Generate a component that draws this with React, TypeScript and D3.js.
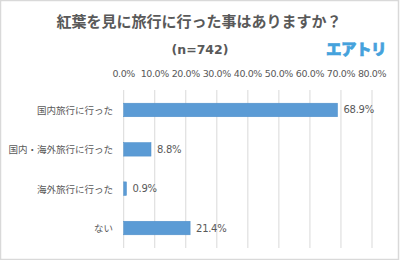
import React from "react";
import * as d3 from "d3";

const categories = ["国内旅行に行った", "国内・海外旅行に行った", "海外旅行に行った", "ない"];
const values = [68.9, 8.8, 0.9, 21.4];
const ticks = [0, 10, 20, 30, 40, 50, 60, 70, 80];
const title = "紅葉を見に旅行に行った事はありますか？";
const subtitle = "(n=742)";
const logo = "エアトリ";

export default function App() {
  const W = 400, H = 260;
  const x = d3.scaleLinear().domain([0, 80]).range([123.7, 372]);
  const y = d3.scaleBand<string>().domain(categories).range([90.3, 247.7]).paddingInner(0.655).paddingOuter(0.3275);
  const font = "'Noto Sans CJK JP', 'Noto Sans', sans-serif";
  return (
    <svg width={W} height={H} style={{ position: "absolute", left: 0, top: 0, display: "block" }} fontFamily={font}>
      <rect x={0.5} y={0.5} width={W - 2} height={H - 1} fill="#fff" stroke="#d9d9d9" strokeWidth={1.5} />
      <text x={199} y={27} textAnchor="middle" fontSize={15} fontWeight="bold" fill="#595959">{title}</text>
      <text x={200} y={54} textAnchor="middle" fontSize={12.5} fontWeight="bold" fill="#595959" fontFamily="'DejaVu Sans', sans-serif">{subtitle}</text>
      <text x={356} y={55} textAnchor="middle" fontSize={15.5} fontWeight="900" fill="#45a2dc" stroke="#45a2dc" strokeWidth={0.6} letterSpacing={-0.5}>{logo}</text>
      {ticks.map((t) => (
        <g key={t}>
          <line x1={x(t)} x2={x(t)} y1={90} y2={248} stroke="#d9d9d9" strokeWidth={1} />
          <text x={x(t)} y={77} textAnchor="middle" fontSize={9.5} fill="#595959" fontFamily="'DejaVu Sans', sans-serif" letterSpacing={-0.4}>{t.toFixed(1)}%</text>
        </g>
      ))}
      {categories.map((c, i) => (
        <g key={c}>
          <rect x={x(0)} y={y(c)!} width={x(values[i]) - x(0)} height={y.bandwidth()} fill="#5b9bd5" stroke="#4f8fc9" strokeWidth={0.5} />
          <text x={113} y={y(c)! + y.bandwidth() / 2} dominantBaseline="central" textAnchor="end" fontSize={9.5} fill="#595959">{c}</text>
          <text x={x(values[i]) + 6} y={y(c)! + y.bandwidth() / 2} dominantBaseline="central" fontSize={10} fill="#595959" fontFamily="'DejaVu Sans', sans-serif" letterSpacing={-0.3}>{values[i].toFixed(1)}%</text>
        </g>
      ))}
    </svg>
  );
}
